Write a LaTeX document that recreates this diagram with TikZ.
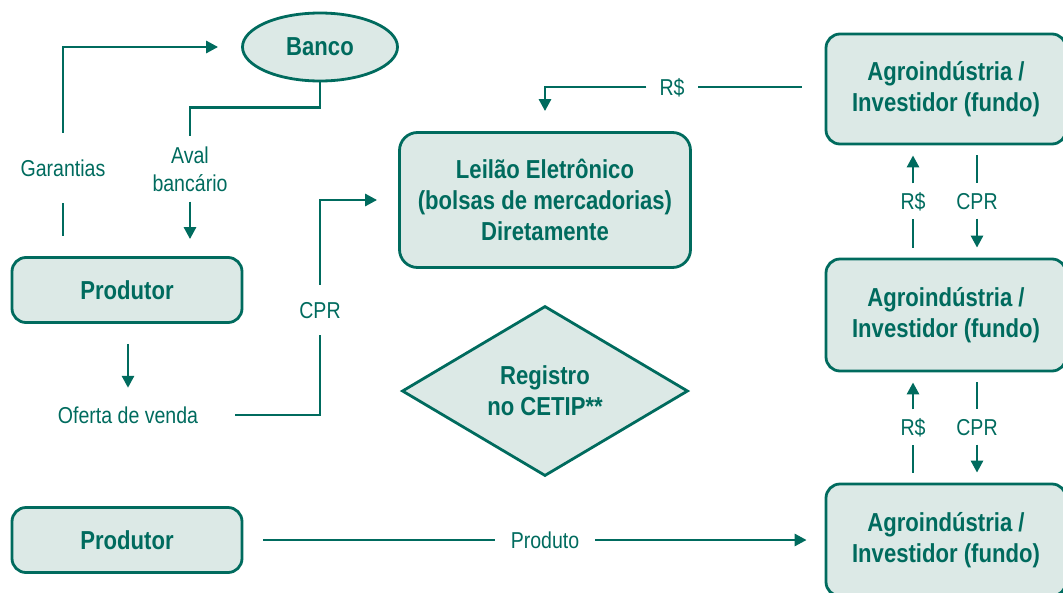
\documentclass[tikz,border=0pt]{standalone}
\usepackage{fontspec}
\setmainfont{Liberation Sans}[FakeStretch=0.85]
\usetikzlibrary{shapes.geometric,arrows.meta}
\definecolor{cprgreen}{RGB}{0,107,94}
\definecolor{cprfill}{RGB}{220,233,230}
\tikzset{
  flow/.style={draw=cprgreen, line width=2.8pt},
  tip/.style={-{Triangle[length=12pt,width=12pt]}},
  box/.style={draw=cprgreen, fill=cprfill, line width=2.8pt, rounded corners=14pt,
    text=cprgreen, font=\bfseries\fontsize{26}{31}\selectfont, align=center},
  lbl/.style={text=cprgreen, font=\fontsize{23}{28}\selectfont,
    text height=19pt, text depth=2pt, inner xsep=0pt},
}

\begin{document}
\begin{tikzpicture}[x=1pt, y=-1pt]
\useasboundingbox (0,0) rectangle (1063,592);
\clip (0,0) rectangle (1063,592);

% boxes
\node[box, ellipse, sharp corners, minimum width=155pt, minimum height=68pt] (banco) at (320,47) {Banco};
\node[box, minimum width=230pt, minimum height=65pt] (prod) at (127,290) {Produtor};
\node[box, minimum width=230pt, minimum height=65pt] (prod2) at (127,540) {Produtor};
\node[box, rounded corners=18pt, minimum width=291pt, minimum height=135pt] (leilao) at (545,200)
  {Leilão Eletrônico\\(bolsas de mercadorias)\\Diretamente};
\node[box, diamond, sharp corners, aspect=1.68, inner sep=0pt, minimum width=286pt, minimum height=170pt] (cetip) at (545,391)
  {Registro\\no CETIP**};
\node[box, minimum width=240pt, minimum height=110pt] (agro1) at (946,89) {Agroindústria /\\Investidor (fundo)};
\node[box, minimum width=240pt, minimum height=112pt] (agro2) at (946,315) {Agroindústria /\\Investidor (fundo)};
\node[box, minimum width=240pt, minimum height=112pt] (agro3) at (946,540) {Agroindústria /\\Investidor (fundo)};

% labels
\node[lbl, inner ysep=24.5pt] (gar) at (63,168) {Garantias};
\node[lbl, text height=, text depth=, align=center, inner ysep=10pt, font=\fontsize{23}{28}\selectfont] (aval) at (190,169) {Aval\\bancário};
\node[lbl, inner ysep=16.5pt, inner xsep=37pt] (oferta) at (128,415) {Oferta de venda};
\node[lbl, inner ysep=14.5pt] (cprm) at (320,310) {CPR};
\node[lbl, inner xsep=13pt] (rtop) at (672,87) {R\$};
\node[lbl, inner xsep=16pt] (produto) at (545,540) {Produto};
\foreach \k/\y in {1/201, 2/427} {
  \node[lbl, inner ysep=7pt] (r\k) at (913,\y) {R\$};
  \node[lbl, inner ysep=7pt] (c\k) at (977,\y) {CPR};
}

% connectors
\draw[flow, tip] (gar.north) |- ([xshift=-23pt]banco.west);
\draw[flow, shorten >=20pt] (gar.south) -- (gar.south |- prod.north);
\draw[flow] (banco.south) -- ++(0,25) -| (aval.north);
\draw[flow, tip, shorten >=17pt] (aval.south) -- (aval.south |- prod.north);
\draw[flow, tip, shorten <=20pt] (oferta.north |- prod.south) -- (oferta.north);
\draw[flow] (oferta.east) -| (cprm.south);
\draw[flow, tip] (cprm.north) |- ([xshift=-21pt]leilao.west);
\draw[flow, shorten <=23pt] (agro1.west |- rtop.east) -- (rtop.east);
\draw[flow, tip, shorten >=20pt] (rtop.west) -| (leilao.north);
\draw[flow, shorten <=20pt] (prod2.east) -- (produto.west);
\draw[flow, tip, shorten >=18pt] (produto.east) -- (agro3.west);
\foreach \k/\a/\b in {1/agro1/agro2, 2/agro2/agro3} {
  \draw[flow, tip, shorten >=10pt] (r\k.north) -- (r\k.north |- \a.south);
  \draw[flow, shorten <=10pt] (r\k.south |- \b.north) -- (r\k.south);
  \draw[flow, shorten <=10pt] (c\k.north |- \a.south) -- (c\k.north);
  \draw[flow, tip, shorten >=10pt] (c\k.south) -- (c\k.south |- \b.north);
}
\end{tikzpicture}
\end{document}
